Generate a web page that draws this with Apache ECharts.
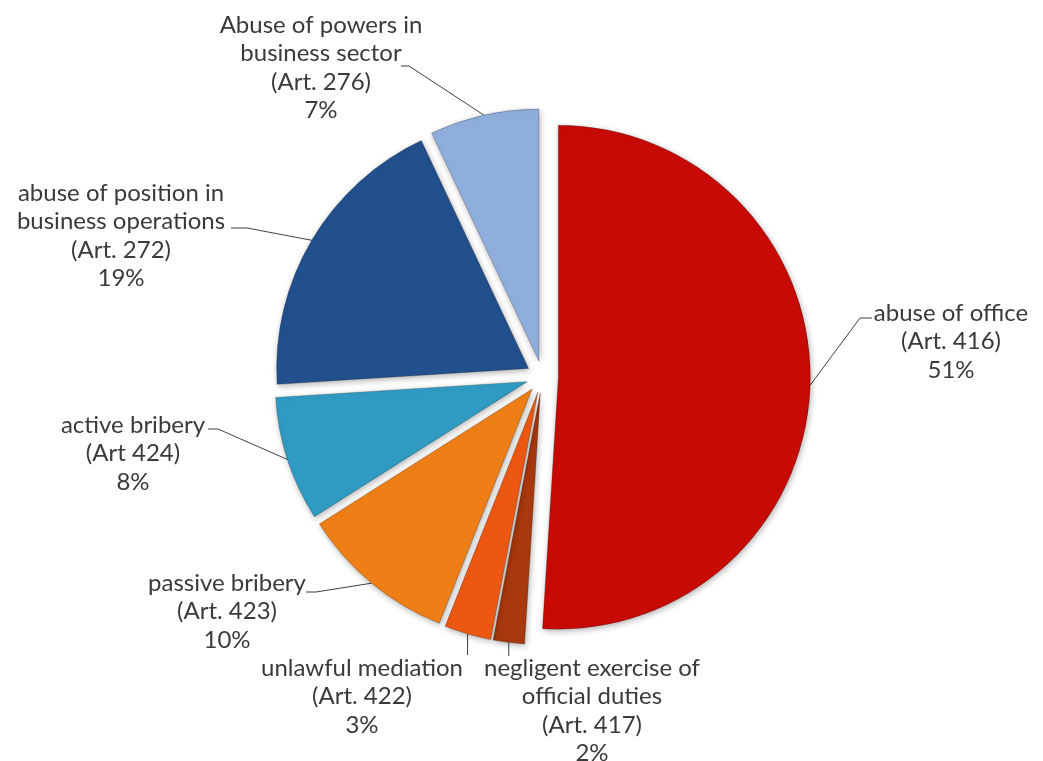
<!DOCTYPE html>
<html>
<head>
<meta charset="utf-8">
<script src="https://cdn.jsdelivr.net/npm/echarts@6/dist/echarts.min.js"></script>
<style>
html,body{margin:0;padding:0;background:#fff;}
#c{width:1043px;height:761px;}
</style>
</head>
<body>
<div id="c"></div>
<script>
const names = [
  ["abuse of office", "(Art. 416)"],
  ["negligent exercise of", "official duties", "(Art. 417)"],
  ["unlawful mediation", "(Art. 422)"],
  ["passive bribery", "(Art. 423)"],
  ["active bribery", "(Art 424)"],
  ["abuse of position in", "business operations", "(Art. 272)"],
  ["Abuse of powers in", "business sector", "(Art. 276)"]
];
const values = [51, 2, 3, 10, 8, 19, 7];
const colors = ["#C80A05", "#A8380E", "#EC5812", "#EE7E16", "#2F9BC3", "#22508C", "#90AEDB"];

// label placement (screen px): text centre x, first-line centre y, leader elbow/end
const labelSpots = [
  {cx: 951, y1: 313, elbow: [860, 318], end: [872, 318]},
  {cx: 592, y1: 668, endY: 656},
  {cx: 362, y1: 668, endY: 655},
  {cx: 227, y1: 583, elbow: [316, 592], end: [306, 592]},
  {cx: 133, y1: 425, elbow: [218, 429], end: [208, 429]},
  {cx: 121, y1: 193, elbow: [247, 228], end: [231, 228]},
  {cx: 321, y1: 25, elbow: [409, 66], end: [401, 66]}
];
const LH = 28.5;
const W = 1043, H = 761;
const CX = 0.52, CY = 0.495, R = 252, OFF = 16;

const data = values.map((v, i) => ({
  name: names[i].join(' '),
  value: v,
  lines: names[i],
  selected: true,
  itemStyle: {color: colors[i]}
}));

const chart = echarts.init(document.getElementById('c'), null, {renderer: 'canvas'});
chart.setOption({
  backgroundColor: '#fff',
  animation: false,
  series: [{
    type: 'pie',
    center: [CX * 100 + '%', CY * 100 + '%'],
    radius: [0, R],
    startAngle: 90,
    clockwise: true,
    selectedMode: 'multiple',
    selectedOffset: OFF,
    avoidLabelOverlap: false,
    itemStyle: {
      borderColor: 'rgba(0,0,0,0.22)',
      borderWidth: 1,
      shadowBlur: 6,
      shadowColor: 'rgba(0,0,0,0.3)',
      shadowOffsetX: 1,
      shadowOffsetY: 2
    },
    emphasis: {disabled: true},
    label: {
      show: true,
      position: 'outside',
      fontFamily: 'Lato',
      fontSize: 24,
      color: '#3a3a3a',
      lineHeight: LH,
      formatter: function (p) {
        return p.data.lines.concat([p.value + '%']).map(s => '{a|' + s + '}').join('\n');
      },
      rich: {a: {align: 'center', fontFamily: 'Lato', fontSize: 24, color: '#3a3a3a', lineHeight: LH}}
    },
    labelLine: {
      show: true,
      length: 20,
      length2: 10,
      lineStyle: {color: '#404040', width: 1}
    },
    labelLayout: function (params) {
      const s = labelSpots[params.dataIndex];
      const r = params.labelRect;
      const p0 = params.labelLinePoints[0];
      const c = [W * CX, H * CY];
      const vx = p0[0] - c[0], vy = p0[1] - c[1];
      const len = Math.sqrt(vx * vx + vy * vy) || 1;
      const so = [OFF * vx / len, OFF * vy / len];
      const local = q => [q[0] - so[0], q[1] - so[1]];
      let pts;
      if (s.elbow) {
        pts = [p0, local(s.elbow), local(s.end)];
      } else {
        const e = [p0[0], s.endY - so[1]];
        pts = [p0, e, e];
      }
      return {
        dx: (s.cx - r.width / 2) - r.x - so[0],
        dy: (s.y1 - LH / 2) - r.y - so[1],
        labelLinePoints: pts
      };
    },
    data: data
  }]
});
</script>
</body>
</html>
